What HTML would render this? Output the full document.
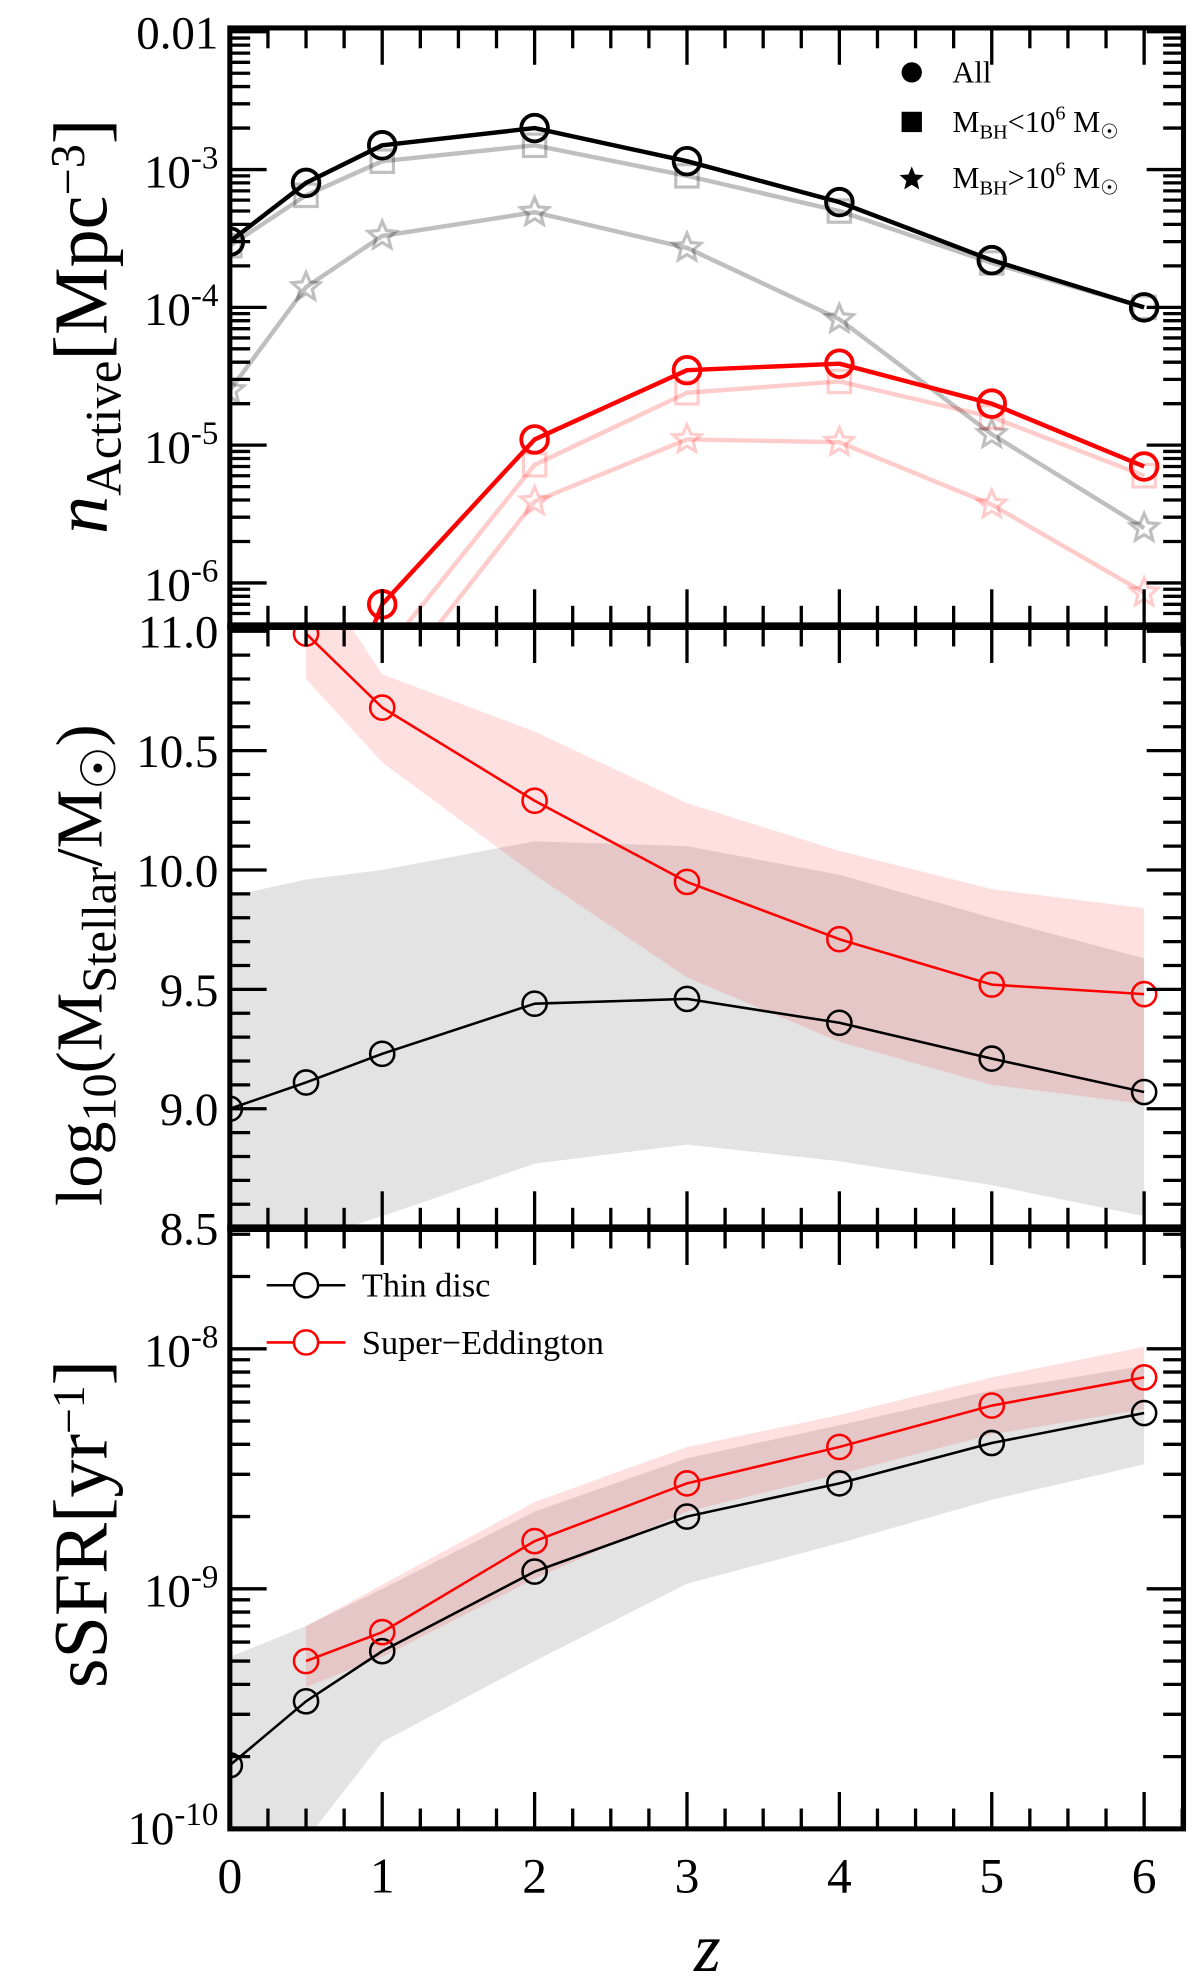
<!DOCTYPE html>
<html><head><meta charset="utf-8"><style>
html,body{margin:0;padding:0;background:#fff;}
svg{display:block;}
text{font-family:"Liberation Serif","DejaVu Serif",serif;fill:#000;}
</style></head><body>
<svg id="fig" width="1200" height="1980" viewBox="0 0 945 1559" preserveAspectRatio="none" xmlns="http://www.w3.org/2000/svg">
<defs>
<clipPath id="c1"><rect x="181" y="22" width="751" height="469"/></clipPath>
<clipPath id="c2"><rect x="181" y="495" width="751" height="472"/></clipPath>
<clipPath id="c3"><rect x="181" y="970" width="751" height="470"/></clipPath>
</defs>
</svg>
<script>
// ---- data ----
const zAll = [0, 0.5, 1, 2, 3, 4, 5, 6];
const blkAll = [3.0e-4, 8.0e-4, 1.5e-3, 2.0e-3, 1.15e-3, 5.8e-4, 2.2e-4, 1.0e-4];
const blkLow = [2.8e-4, 6.5e-4, 1.15e-3, 1.5e-3, 9.0e-4, 5.0e-4, 2.1e-4, 1.0e-4];
const blkHigh = [2.5e-5, 1.4e-4, 3.3e-4, 4.9e-4, 2.7e-4, 8.2e-5, 1.2e-5, 2.5e-6];
const redAll = [3e-8, 7.0e-7, 1.1e-5, 3.5e-5, 3.9e-5, 2.0e-5, 7.0e-6];
const redLow = [1e-8, 3.0e-7, 7.2e-6, 2.4e-5, 2.9e-5, 1.6e-5, 6.0e-6];
const redHigh = [5e-9, 1.5e-7, 3.9e-6, 1.1e-5, 1.05e-5, 3.7e-6, 8.5e-7];
const zRed = [0.5, 1, 2, 3, 4, 5, 6];
const mThin = [9.0, 9.11, 9.23, 9.44, 9.46, 9.36, 9.21, 9.07];
const mThinHi = [9.89, 9.96, 10.0, 10.12, 10.1, 9.98, 9.8, 9.63];
const mThinLo = [8.4, 8.45, 8.55, 8.77, 8.85, 8.78, 8.68, 8.55];
const mSE = [10.99, 10.68, 10.29, 9.95, 9.71, 9.52, 9.48];
const mSEHi = [11.3, 10.82, 10.58, 10.28, 10.08, 9.92, 9.84];
const mSELo = [10.8, 10.45, 9.98, 9.55, 9.28, 9.1, 9.02];
const sThin = [1.84e-10, 3.4e-10, 5.5e-10, 1.18e-9, 2.0e-9, 2.75e-9, 4.05e-9, 5.4e-9];
const sThinHi = [5.2e-10, 7.0e-10, 1.0e-9, 2.1e-9, 3.5e-9, 4.8e-9, 6.7e-9, 8.5e-9];
const sThinLo = [9e-11, 9e-11, 2.3e-10, 5.0e-10, 1.05e-9, 1.55e-9, 2.35e-9, 3.3e-9];
const sSE = [5.0e-10, 6.6e-10, 1.58e-9, 2.75e-9, 3.9e-9, 5.8e-9, 7.6e-9];
const sSEHi = [7.0e-10, 1.04e-9, 2.3e-9, 3.9e-9, 5.3e-9, 7.6e-9, 1.02e-8];
const sSELo = [3.9e-10, 5.2e-10, 1.1e-9, 2.1e-9, 3.0e-9, 4.4e-9, 5.6e-9];
const xTicks = [0, 1, 2, 3, 4, 5, 6];
const p2Ticks = [11.0, 10.5, 10.0, 9.5, 9.0, 8.5];

// ---- axes ----
const NS = "http://www.w3.org/2000/svg";
const svg = document.getElementById('fig');
const X = z => 181 + 120 * z;
const Y1 = v => 25 + (-2 - Math.log10(v)) * 108.5;
const Y2 = v => 497 + (11 - v) * 188;
const Y3 = v => 1062 + (-8 - Math.log10(v)) * 189;
function el(tag, at, parent) {
  const e = document.createElementNS(NS, tag);
  for (const k in at) e.setAttribute(k, at[k]);
  (parent || svg).appendChild(e);
  return e;
}
function grp(clip) { const g = el('g', clip ? {'clip-path': 'url(#' + clip + ')'} : {}); return g; }

function line(g, xs, ys, Yf, color, w, name) {
  const pts = xs.map((z, i) => X(z) + ',' + Yf(ys[i])).join(' ');
  const p = el('polyline', {points: pts, fill: 'none', stroke: color, 'stroke-width': w, 'stroke-linejoin': 'round'}, g);
  
  
}
function band(g, xs, lo, hi, Yf, color, name) {
  const pts = xs.map((z, i) => X(z) + ',' + Yf(hi[i])).concat(xs.map((z, i) => X(z) + ',' + Yf(lo[i])).reverse()).join(' ');
  const p = el('polygon', {points: pts, fill: color, stroke: 'none'}, g);
  
  
}
function starPath(cx, cy, r) {
  let d = '';
  for (let i = 0; i < 10; i++) {
    const rr = i % 2 ? r * 0.45 : r;
    const a = -Math.PI / 2 + i * Math.PI / 5;
    d += (i ? 'L' : 'M') + (cx + rr * Math.cos(a)).toFixed(1) + ',' + (cy + rr * Math.sin(a)).toFixed(1);
  }
  return d + 'Z';
}
function markers(g, xs, ys, Yf, type, color, w, r, name) {
  xs.forEach((z, i) => {
    const cx = X(z), cy = Yf(ys[i]);
    let m;
    if (type === 'o') m = el('circle', {cx: cx, cy: cy, r: r, fill: 'none', stroke: color, 'stroke-width': w}, g);
    else if (type === 's') m = el('rect', {x: cx - r * 0.8, y: cy - r * 0.8, width: r * 1.6, height: r * 1.6, fill: 'none', stroke: color, 'stroke-width': w}, g);
    else m = el('path', {d: starPath(cx, cy, r * 1.05), fill: 'none', stroke: color, 'stroke-width': w}, g);
    
    
  });
}

// ---- panel 1 ----
const g1 = grp('c1');
const GRAY = 'rgba(0,0,0,0.25)', PINK = 'rgba(255,0,0,0.2)';
line(g1, zAll, blkHigh, Y1, GRAY, 3.5, 'line-all-high-mass');
markers(g1, zAll, blkHigh, Y1, '*', GRAY, 2.5, 11, 'marker-all-high-mass');
line(g1, zAll, blkLow, Y1, GRAY, 3.5, 'line-all-low-mass');
markers(g1, zAll, blkLow, Y1, 's', GRAY, 2.5, 11, 'marker-all-low-mass');
line(g1, zAll, blkAll, Y1, '#000', 3.5, 'line-all');
markers(g1, zAll, blkAll, Y1, 'o', '#000', 3, 10.5, 'marker-all');
line(g1, zRed, redHigh, Y1, PINK, 3.5, 'line-se-high-mass');
markers(g1, zRed, redHigh, Y1, '*', PINK, 2.5, 11, 'marker-se-high-mass');
line(g1, zRed, redLow, Y1, PINK, 3.5, 'line-se-low-mass');
markers(g1, zRed, redLow, Y1, 's', PINK, 2.5, 11, 'marker-se-low-mass');
line(g1, zRed, redAll, Y1, '#ff0000', 3.5, 'line-se-all');
markers(g1, zRed, redAll, Y1, 'o', '#ff0000', 3, 10.5, 'marker-se-all');

// ---- panel 2 ----
const g2 = grp('c2');
band(g2, zAll, mThinLo, mThinHi, Y2, 'rgba(0,0,0,0.11)', 'band-thin-disc-mass');
band(g2, zRed, mSELo, mSEHi, Y2, 'rgba(255,0,0,0.12)', 'band-super-eddington-mass');
line(g2, zAll, mThin, Y2, '#000', 2, 'line-thin-disc-mass');
markers(g2, zAll, mThin, Y2, 'o', '#000', 2, 9.5, 'marker-thin-disc-mass');
line(g2, zRed, mSE, Y2, '#ff0000', 2, 'line-super-eddington-mass');
markers(g2, zRed, mSE, Y2, 'o', '#ff0000', 2, 9.5, 'marker-super-eddington-mass');

// ---- panel 3 ----
const g3 = grp('c3');
band(g3, zAll, sThinLo, sThinHi, Y3, 'rgba(0,0,0,0.11)', 'band-thin-disc-ssfr');
band(g3, zRed, sSELo, sSEHi, Y3, 'rgba(255,0,0,0.12)', 'band-super-eddington-ssfr');
line(g3, zAll, sThin, Y3, '#000', 2, 'line-thin-disc-ssfr');
markers(g3, zAll, sThin, Y3, 'o', '#000', 2, 9.5, 'marker-thin-disc-ssfr');
line(g3, zRed, sSE, Y3, '#ff0000', 2, 'line-super-eddington-ssfr');
markers(g3, zRed, sSE, Y3, 'o', '#ff0000', 2, 9.5, 'marker-super-eddington-ssfr');

// ---- ticks & frames ----
const panels = [{t: 22, b: 493}, {t: 493, b: 967}, {t: 967, b: 1440}];
const L = 181, R = 932;
const tg = el('g', {stroke: '#000', 'stroke-width': 2.6});
function tk(x1, y1, x2, y2) { el('line', {x1: x1, y1: y1, x2: x2, y2: y2}, tg); }
panels.forEach(p => {
  for (let z = 0; z <= 6.26; z += 0.25) {
    const len = Math.abs(z - Math.round(z)) < 1e-6 ? 29 : 16;
    tk(X(z), p.t, X(z), p.t + len);
    tk(X(z), p.b, X(z), p.b - len);
  }
});
function ytick(y, len, top, bot) {
  if (y < top - 0.5 || y > bot + 0.5) return;
  tk(L, y, L + len, y); tk(R, y, R - len, y);
}
for (let d = -7; d <= -2; d++) for (let m = 1; m <= 9; m++) ytick(Y1(m * Math.pow(10, d)), m === 1 ? 29 : 16, 22, 493);
for (let v = 8.5; v <= 11.001; v += 0.1) { const maj = Math.abs(v * 2 - Math.round(v * 2)) < 1e-6; ytick(Y2(v), maj ? 29 : 16, 493, 967); }
for (let d = -11; d <= -8; d++) for (let m = 1; m <= 9; m++) ytick(Y3(m * Math.pow(10, d)), m === 1 ? 29 : 16, 967, 1440);
panels.forEach((p, i) => {
  const r = el('rect', {x: L, y: p.t, width: R - L, height: p.b - p.t, fill: 'none', stroke: '#000', 'stroke-width': 4});
  
  
});
el('line', {x1: L - 2, y1: 493, x2: R + 2, y2: 493, stroke: '#000', 'stroke-width': 6});
el('line', {x1: L - 2, y1: 967, x2: R + 2, y2: 967, stroke: '#000', 'stroke-width': 6});

// ---- tick labels ----
function txt(x, y, s, size, anchor, name) {
  const t = el('text', {x: x, y: y, 'font-size': size, 'text-anchor': anchor || 'end'});
  t.innerHTML = s;
  
  
  return t;
}
const sup = e => '10<tspan dy="-15" font-size="26">' + e + '</tspan>';
txt(172, 38, '0.01', 37, 'end', 'y1-tick-label');
[-3, -4, -5, -6].forEach(d => txt(172, Y1(Math.pow(10, d)) + 14, sup('-' + (-d)), 37, 'end', 'y1-tick-label'));
p2Ticks.forEach(v => txt(172, Y2(v) + 13, v.toFixed(1), 37, 'end', 'y2-tick-label'));
[-8, -9, -10].forEach(d => txt(172, Math.min(Y3(Math.pow(10, d)) + 14, 1452), sup('-' + (-d)), 37, 'end', 'y3-tick-label'));
xTicks.forEach(z => txt(X(z), 1490, String(z), 39, 'middle', 'x-tick-label'));
const xl = txt(557, 1552, 'z', 54, 'middle', 'x-axis-title'); xl.setAttribute('font-style', 'italic');

// ---- axis titles ----
const t1 = txt(0, 0, '<tspan font-style="italic">n</tspan><tspan dy="11" font-size="40">Active</tspan><tspan dy="-11">[Mpc</tspan><tspan dy="-18" font-size="38">−3</tspan><tspan dy="18">]</tspan>', 60, 'middle', 'y1-axis-title');
t1.setAttribute('transform', 'translate(84,257) rotate(-90)');
const t2 = txt(0, 0, 'log<tspan dy="11" font-size="38">10</tspan><tspan dy="-11">(M</tspan><tspan dy="11" font-size="38">Stellar</tspan><tspan dy="-11">/M</tspan><tspan dy="11" font-size="38">☉</tspan><tspan dy="-11">)</tspan>', 52, 'middle', 'y2-axis-title');
t2.setAttribute('transform', 'translate(80,760) rotate(-90)');
const t3 = txt(0, 0, 'sSFR[yr<tspan dy="-18" font-size="36">−1</tspan><tspan dy="18">]</tspan>', 60, 'middle', 'y3-axis-title');
t3.setAttribute('transform', 'translate(84,1200) rotate(-90)');

// ---- legends ----
const lg1 = el('g', {});  
const c = el('circle', {cx: 718, cy: 57, r: 8, fill: '#000'}, lg1);
 
const s = el('rect', {x: 710, y: 88, width: 16, height: 16, fill: '#000'}, lg1);
 
const st = el('path', {d: starPath(718, 141, 10), fill: '#000'}, lg1);
 
txt(750, 65, 'All', 24, 'start', 'legend-entry-all');
txt(750, 104, 'M<tspan dy="5" font-size="16">BH</tspan><tspan dy="-5">&lt;10</tspan><tspan dy="-10" font-size="16">6</tspan><tspan dy="10"> M</tspan><tspan dy="5" font-size="16">☉</tspan>', 24, 'start', 'legend-entry-low-mass');
txt(750, 148, 'M<tspan dy="5" font-size="16">BH</tspan><tspan dy="-5">&gt;10</tspan><tspan dy="-10" font-size="16">6</tspan><tspan dy="10"> M</tspan><tspan dy="5" font-size="16">☉</tspan>', 24, 'start', 'legend-entry-high-mass');

[['#000', 'Thin disc', 1012, 'legend-entry-thin-disc'], ['#ff0000', 'Super−Eddington', 1057, 'legend-entry-super-eddington']].forEach(r => {
  const g = el('g', {});  
  el('line', {x1: 210, y1: r[2], x2: 272, y2: r[2], stroke: r[0], 'stroke-width': 2}, g);
  el('circle', {cx: 241, cy: r[2], r: 9.5, fill: '#fff', stroke: r[0], 'stroke-width': 2}, g);
  txt(285, r[2] + 9, r[1], 27, 'start', r[3] + '-label');
});
</script>
</body></html>
